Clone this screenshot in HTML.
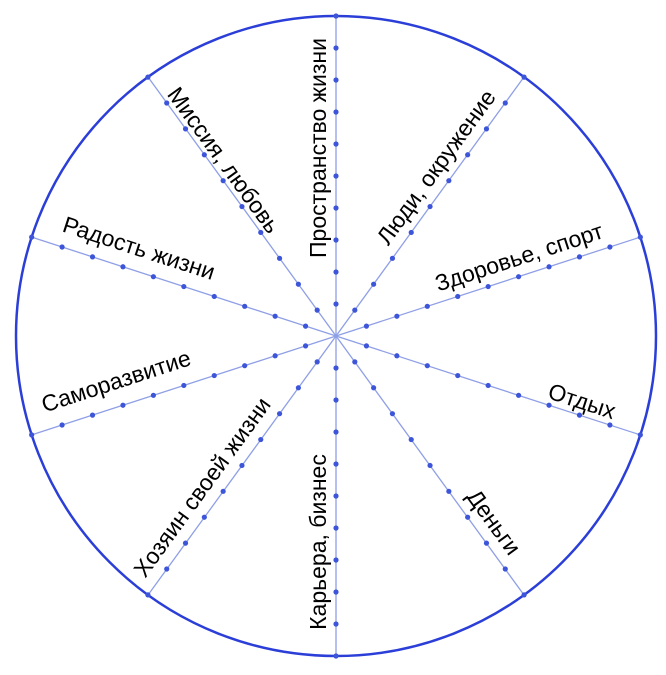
<!DOCTYPE html>
<html><head><meta charset="utf-8"><style>
html,body{margin:0;padding:0;background:#fff;}
svg{display:block;}
text{font-family:"Liberation Sans","DejaVu Sans",sans-serif;font-size:23px;fill:#000;}
</style></head><body>
<svg width="666" height="675" viewBox="0 0 666 675" xmlns="http://www.w3.org/2000/svg">
<circle cx="336" cy="336" r="320" fill="none" stroke="#2b3fd8" stroke-width="2.5"/>
<g stroke="#8f9fe6" stroke-width="1.3">
<line x1="336" y1="16" x2="336" y2="656"/>
<line x1="148.1" y1="77.1" x2="523.9" y2="594.9"/>
<line x1="523.9" y1="77.1" x2="148.1" y2="594.9"/>
<line x1="31.7" y1="237.1" x2="640.3" y2="434.9"/>
<line x1="640.3" y1="237.1" x2="31.7" y2="434.9"/>
</g>
<g fill="#3d55d9">
<circle cx="336" cy="16" r="2.6"/><circle cx="336" cy="48" r="2.6"/><circle cx="336" cy="80" r="2.6"/><circle cx="336" cy="112" r="2.6"/><circle cx="336" cy="144" r="2.6"/><circle cx="336" cy="176" r="2.6"/><circle cx="336" cy="208" r="2.6"/><circle cx="336" cy="240" r="2.6"/><circle cx="336" cy="272" r="2.6"/><circle cx="336" cy="304" r="2.6"/>
<circle cx="336" cy="368" r="2.6"/><circle cx="336" cy="400" r="2.6"/><circle cx="336" cy="432" r="2.6"/><circle cx="336" cy="464" r="2.6"/><circle cx="336" cy="496" r="2.6"/><circle cx="336" cy="528" r="2.6"/><circle cx="336" cy="560" r="2.6"/><circle cx="336" cy="592" r="2.6"/><circle cx="336" cy="624" r="2.6"/><circle cx="336" cy="656" r="2.6"/>
</g>
<g fill="#3d55d9" id="gen"></g>
<script>
(function(){
var g=document.getElementById('gen');var ns='http://www.w3.org/2000/svg';
var angs=[54,126,18,162,-18,-162,-54,-126];
angs.forEach(function(a){var r=a*Math.PI/180;
for(var k=1;k<=10;k++){var c=document.createElementNS(ns,'circle');
c.setAttribute('cx',336+32*k*Math.cos(r));c.setAttribute('cy',336-32*k*Math.sin(r));c.setAttribute('r',2.6);g.appendChild(c);}});
})();
</script>
<text text-anchor="middle" dominant-baseline="central" transform="translate(318,148) rotate(-90)">Пространство жизни</text>
<text text-anchor="middle" dominant-baseline="central" transform="translate(318,542) rotate(-90)">Карьера, бизнес</text>
<text text-anchor="middle" dominant-baseline="central" transform="translate(436,167) rotate(-54)">Люди, окружение</text>
<text text-anchor="middle" dominant-baseline="central" transform="translate(519,257) rotate(-18)">Здоровье, спорт</text>
<text text-anchor="middle" dominant-baseline="central" transform="translate(582,401) rotate(18)">Отдых</text>
<text text-anchor="middle" dominant-baseline="central" transform="translate(494,522) rotate(54)">Деньги</text>
<text text-anchor="middle" dominant-baseline="central" transform="translate(202,487) rotate(-54)">Хозяин своей жизни</text>
<text text-anchor="middle" dominant-baseline="central" transform="translate(116,381) rotate(-18)">Саморазвитие</text>
<text text-anchor="middle" dominant-baseline="central" transform="translate(139,248) rotate(18)">Радость жизни</text>
<text text-anchor="middle" dominant-baseline="central" transform="translate(224,160) rotate(54)">Миссия, любовь</text>
</svg>
</body></html>
